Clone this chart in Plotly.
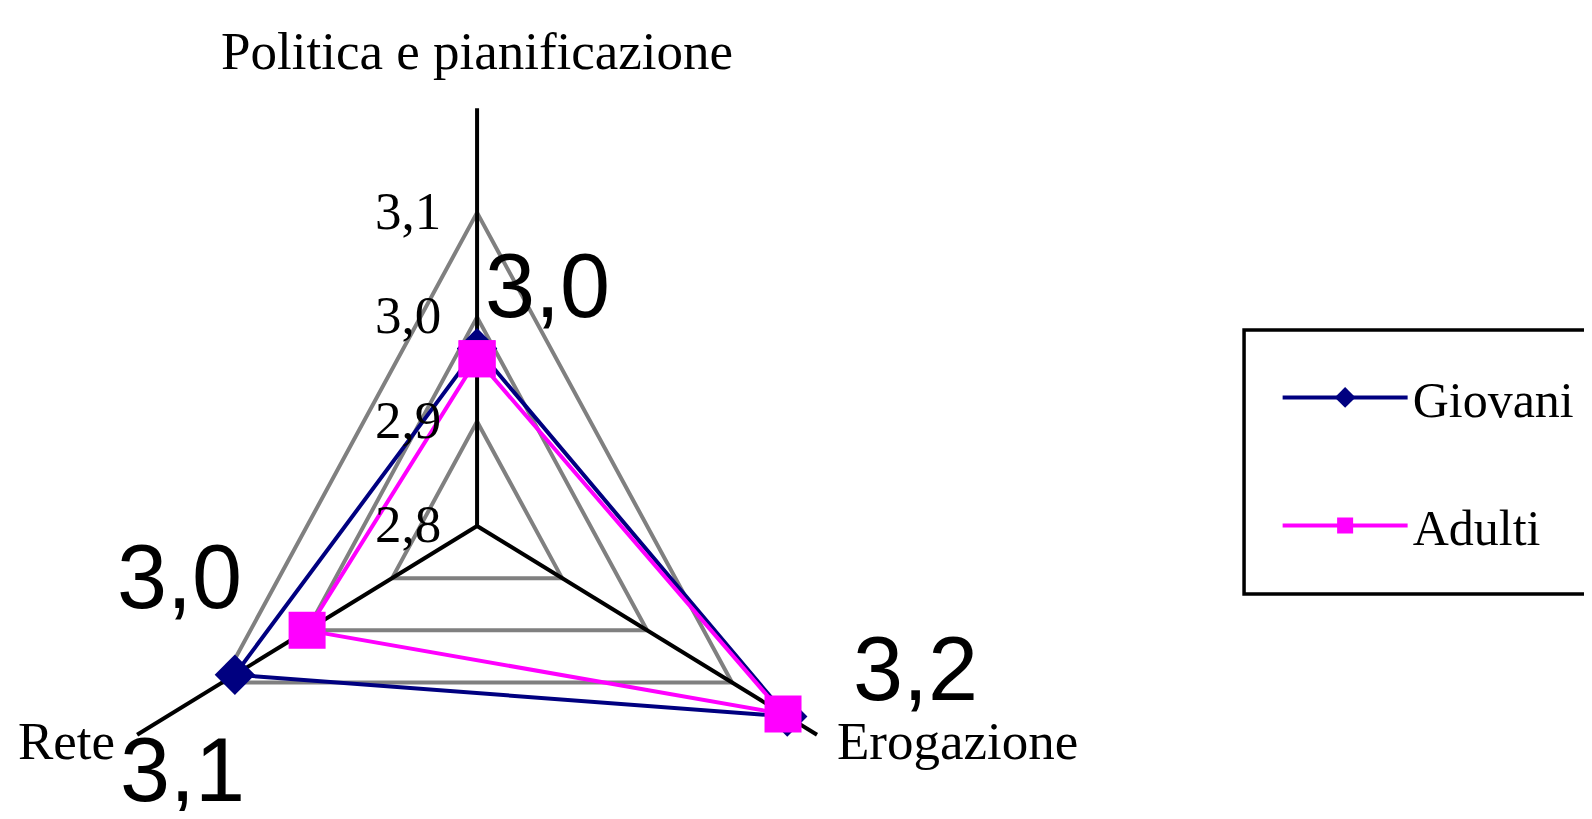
import math
import plotly.graph_objects as go

categories = ['Politica e pianificazione', 'Erogazione', 'Rete']
series_names = ['Giovani', 'Adulti']
giovani = [2.97, 3.165, 3.085]
adulti = [2.96, 3.16, 3.00]
radial_ticks = [2.8, 2.9, 3.0, 3.1]
radial_min = 2.8
radial_max = 3.2


def to_xy(value, idx):
  # radar projection: first spoke straight up, the others clockwise
  ang = math.radians(90 - idx * 360 / len(categories))
  r = value - radial_min
  return r * math.cos(ang), r * math.sin(ang)


def comma(v):
  return f'{v:.1f}'.replace('.', ',')


serif = 'Liberation Serif'
sans = 'Liberation Sans'

fig = go.Figure()

# gray rings
ring_x, ring_y = [], []
for t in radial_ticks[1:]:
  for i in list(range(len(categories))) + [0]:
    x, y = to_xy(t, i)
    ring_x.append(x)
    ring_y.append(y)
  ring_x.append(None)
  ring_y.append(None)
fig.add_trace(go.Scatter(x=ring_x, y=ring_y, mode='lines', line=dict(color='#808080', width=4),
                         hoverinfo='skip', showlegend=False))

# black spokes
sp_x, sp_y = [], []
for i in range(len(categories)):
  x0, y0 = to_xy(radial_min, i)
  x1, y1 = to_xy(radial_max, i)
  sp_x += [x0, x1, None]
  sp_y += [y0, y1, None]
fig.add_trace(go.Scatter(x=sp_x, y=sp_y, mode='lines', line=dict(color='black', width=4),
                         hoverinfo='skip', showlegend=False))

series_style = {
  'Giovani': dict(color='#000080', symbol='diamond', size=31),
  'Adulti': dict(color='#FF00FF', symbol='square', size=37),
}
series_values = {'Giovani': giovani, 'Adulti': adulti}

for name in series_names:
  vals = series_values[name]
  pts = [to_xy(v, i) for i, v in enumerate(vals)]
  pts.append(pts[0])
  st = series_style[name]
  fig.add_trace(go.Scatter(
    name=name,
    x=[p[0] for p in pts],
    y=[p[1] for p in pts],
    mode='lines+markers',
    line=dict(color=st['color'], width=4),
    marker=dict(color=st['color'], symbol=st['symbol'], size=st['size'], line=dict(width=0)),
    legendgroup=name,
    text=categories + [categories[0]],
    hovertemplate='%{text}: %{customdata}<extra>' + name + '</extra>',
    customdata=[comma(v) for v in vals] + [comma(vals[0])],
  ))

# category labels at the spoke ends
cat_style = [
  dict(xanchor='center', yanchor='bottom', xshift=0, yshift=26),
  dict(xanchor='left', yanchor='middle', xshift=18, yshift=-6),
  dict(xanchor='right', yanchor='middle', xshift=-20, yshift=-6),
]
for i, cat in enumerate(categories):
  x, y = to_xy(radial_max, i)
  fig.add_annotation(x=x, y=y, text=cat, showarrow=False,
                     font=dict(family=serif, size=53, color='black'), **cat_style[i])

# radial tick labels along the first spoke
for t in radial_ticks:
  x, y = to_xy(t, 0)
  fig.add_annotation(x=x, y=y, text=comma(t), showarrow=False, xanchor='right', yanchor='middle',
                     xshift=-34, yshift=2, font=dict(family=serif, size=53, color='black'))

# data labels (pixel offsets from each point, None = hidden by overlap)
label_shift = {
  'Giovani': [(70, 62), (128, 48), (-52, -95)],
  'Adulti': [None, None, (-128, 53)],
}
for name in series_names:
  for i, v in enumerate(series_values[name]):
    sh = label_shift[name][i]
    if sh is None:
      continue
    x, y = to_xy(v, i)
    fig.add_annotation(x=x, y=y, text=comma(v), showarrow=False, xanchor='center', yanchor='middle',
                       xshift=sh[0], yshift=sh[1], font=dict(family=sans, size=90, color='black'))

# legend frame, open at the right edge of the page
fig.add_shape(type='rect', xref='paper', yref='paper', x0=0.7843, x1=1.03, y0=0.2702, y1=0.599,
              line=dict(color='black', width=3.5), fillcolor='rgba(0,0,0,0)', layer='below')

fig.update_xaxes(visible=False, range=[-0.478, 1.128], fixedrange=True)
fig.update_yaxes(visible=False, range=[-0.273, 0.496], fixedrange=True)
fig.update_layout(
  template='none',
  paper_bgcolor='white',
  plot_bgcolor='white',
  margin=dict(l=0, r=0, t=0, b=0),
  showlegend=True,
  legend=dict(
    x=0.8056, y=0.596, xanchor='left', yanchor='top',
    bgcolor='rgba(0,0,0,0)', borderwidth=0,
    font=dict(family=serif, size=50, color='black'),
    title=dict(text=' ', font=dict(size=20)),
    traceorder='grouped', tracegroupgap=60, itemwidth=125,
  ),
)

fig.write_html("out.html")
